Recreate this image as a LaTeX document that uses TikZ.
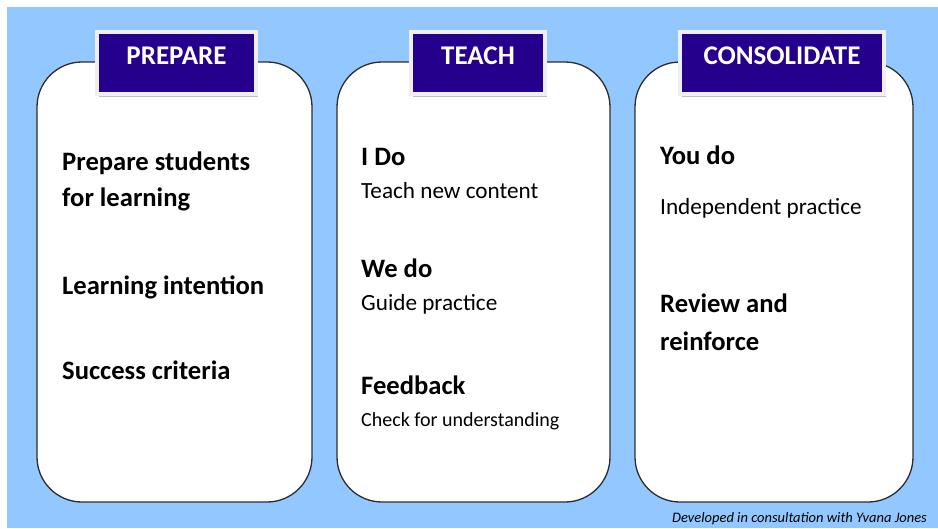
\documentclass[tikz,border=0pt]{standalone}
\usepackage{fontspec}
\setmainfont{Carlito}
\usetikzlibrary{shadows}

\definecolor{skyblue}{RGB}{146,200,255}
\definecolor{tabblue}{RGB}{36,0,140}
\definecolor{tabedge}{RGB}{238,238,238}
\definecolor{rimgray}{RGB}{45,45,45}

\begin{document}
\begin{tikzpicture}[x=1pt, y=-1pt,
    panel/.style={draw=rimgray, line width=1.3pt, fill=white, rounded corners=45pt,
        minimum width=#1, minimum height=440pt, inner sep=0pt},
    tab/.style={draw=tabedge, line width=4pt, fill=tabblue, text=white,
        minimum width=#1, minimum height=62pt, inner sep=0pt,
        font=\fontsize{27}{30}\selectfont\bfseries, text height=17pt, text depth=14pt,
        drop shadow={shadow xshift=1.5pt, shadow yshift=-2.5pt, fill=black!25, opacity=1}},
    head/.style={anchor=base west, inner sep=0pt, font=\fontsize{26.6}{30}\selectfont\bfseries},
    body/.style={anchor=base west, inner sep=0pt, font=\fontsize{23.2}{28}\selectfont},
    small/.style={anchor=base west, inner sep=0pt, font=\fontsize{20}{24}\selectfont},
    credit/.style={anchor=base west, inner sep=0pt, font=\fontsize{14.5}{17}\selectfont\itshape}]

    \useasboundingbox (0,0) rectangle (938,528);

    % Sfondo
    \fill[skyblue] (7,7) rectangle (938,528);

    % Pannelli
    \node[panel=275pt] (prepare)     at (174.5,282) {};
    \node[panel=273pt] (teach)       at (473.5,282) {};
    \node[panel=278pt] (consolidate) at (774,282)   {};

    % Etichette
    \node[tab=159pt] (prepareTab)     at (176.5,63) {PREPARE};
    \node[tab=134pt] (teachTab)       at (478,63)   {TEACH};
    \node[tab=204pt] (consolidateTab) at (782,63)   {CONSOLIDATE};

    % Prepare
    \node[head] (prepA) at (62,170)   {Prepare students};
    \node[head] (prepB) at (62,206.5) {for learning};
    \node[head] (prepC) at (62,294)   {Learning intention};
    \node[head] (prepD) at (62,379)   {Success criteria};

    % Teach
    \node[head]  (iDo)      at (361,165) {I Do};
    \node[body]  (iDoTxt)   at (361,198) {Teach new content};
    \node[head]  (weDo)     at (361,277) {We do};
    \node[body]  (weDoTxt)  at (361,310) {Guide practice};
    \node[head]  (fback)    at (361,394) {Feedback};
    \node[small] (fbackTxt) at (361,426) {Check for understanding};

    % Consolidate
    \node[head] (youDo)    at (660,164) {You do};
    \node[body] (youDoTxt) at (660,214) {Independent practice};
    \node[head] (reviewA)  at (660,312) {Review and};
    \node[head] (reviewB)  at (660,350) {reinforce};

    % Nota
    \node[credit] (note) at (672,522) {Developed in consultation with Yvana Jones};

\end{tikzpicture}
\end{document}
